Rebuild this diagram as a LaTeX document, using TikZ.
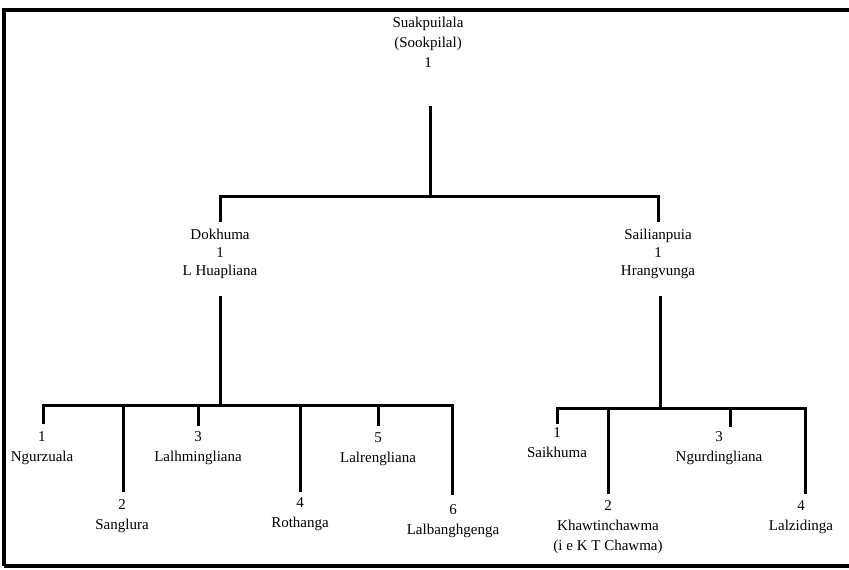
\documentclass[tikz,border=0pt]{standalone}
\usepackage{fontspec}
\setmainfont{Liberation Serif}
\begin{document}
\begin{tikzpicture}[x=1pt,y=-1pt,
  lbl/.style={inner sep=0pt, align=center, font=\fontsize{15}{20}\selectfont},
  tline/.style={line width=3pt, line cap=rect},
  frame/.style={line width=4pt}]
\useasboundingbox (0,0) rectangle (849,570);
% frame
\draw[frame] (4,566) -- (4,10) -- (849,10);
\draw[frame] (4,566) -- (849,566);

% labels
\node[lbl] (root) at (428,42) {Suakpuilala\\(Sookpilal)\\1};
\node[lbl,font=\fontsize{15}{18}\selectfont] (dok) at (220,254) {Dokhuma\\1\\L Huapliana};
\node[lbl,font=\fontsize{15}{18}\selectfont] (sai) at (658,254) {Sailianpuia\\1\\Hrangvunga};

\node[lbl] (l1) at (42,448) {1\\Ngurzuala};
\node[lbl] (l2) at (122,516) {2\\Sanglura};
\node[lbl] (l3) at (198,448) {3\\Lalhmingliana};
\node[lbl] (l4) at (300,514) {4\\Rothanga};
\node[lbl] (l5) at (378,449) {5\\Lalrengliana};
\node[lbl] (l6) at (453,521) {6\\Lalbanghgenga};

\node[lbl] (r1) at (557,443) {1\\Saikhuma};
\node[lbl] (r2) at (608,527) {2\\Khawtinchawma\\(i e K T Chawma)};
\node[lbl] (r3) at (719,448) {3\\Ngurdingliana};
\node[lbl] (r4) at (801,517) {4\\Lalzidinga};

% junction coordinates
\coordinate (rootA) at (430,107);
\coordinate (rootB) at (430,196);
\coordinate (dokT) at (220,196);
\coordinate (saiT) at (658,196);
\coordinate (dokD) at (220,220);
\coordinate (saiD) at (658,220);
\coordinate (dokA) at (220,297);
\coordinate (dokB) at (220,405);
\coordinate (saiA) at (660,297);
\coordinate (saiB) at (660,408);

\coordinate (l1t) at (43,405);  \coordinate (l1b) at (43,422);
\coordinate (l2t) at (123,405); \coordinate (l2b) at (123,490);
\coordinate (l3t) at (198,405); \coordinate (l3b) at (198,424);
\coordinate (l4t) at (300,405); \coordinate (l4b) at (300,490);
\coordinate (l5t) at (378,405); \coordinate (l5b) at (378,424);
\coordinate (l6t) at (452,405); \coordinate (l6b) at (452,493);

\coordinate (r1t) at (557,408); \coordinate (r1b) at (557,422);
\coordinate (r2t) at (608,408); \coordinate (r2b) at (608,492);
\coordinate (r3t) at (730,408); \coordinate (r3b) at (730,425);
\coordinate (r4t) at (805,408); \coordinate (r4b) at (805,492);

% connectors
\draw[tline] (rootA) -- (rootB);
\draw[tline] (dokD) -- (dokT) -- (saiT) -- (saiD);
\draw[tline] (dokA) -- (dokB);
\draw[tline] (saiA) -- (saiB);
\draw[tline] (l1b) -- (l1t) -- (l6t) -- (l6b);
\draw[tline] (l2t) -- (l2b);
\draw[tline] (l3t) -- (l3b);
\draw[tline] (l4t) -- (l4b);
\draw[tline] (l5t) -- (l5b);
\draw[tline] (r1b) -- (r1t) -- (r4t) -- (r4b);
\draw[tline] (r2t) -- (r2b);
\draw[tline] (r3t) -- (r3b);
\end{tikzpicture}
\end{document}
